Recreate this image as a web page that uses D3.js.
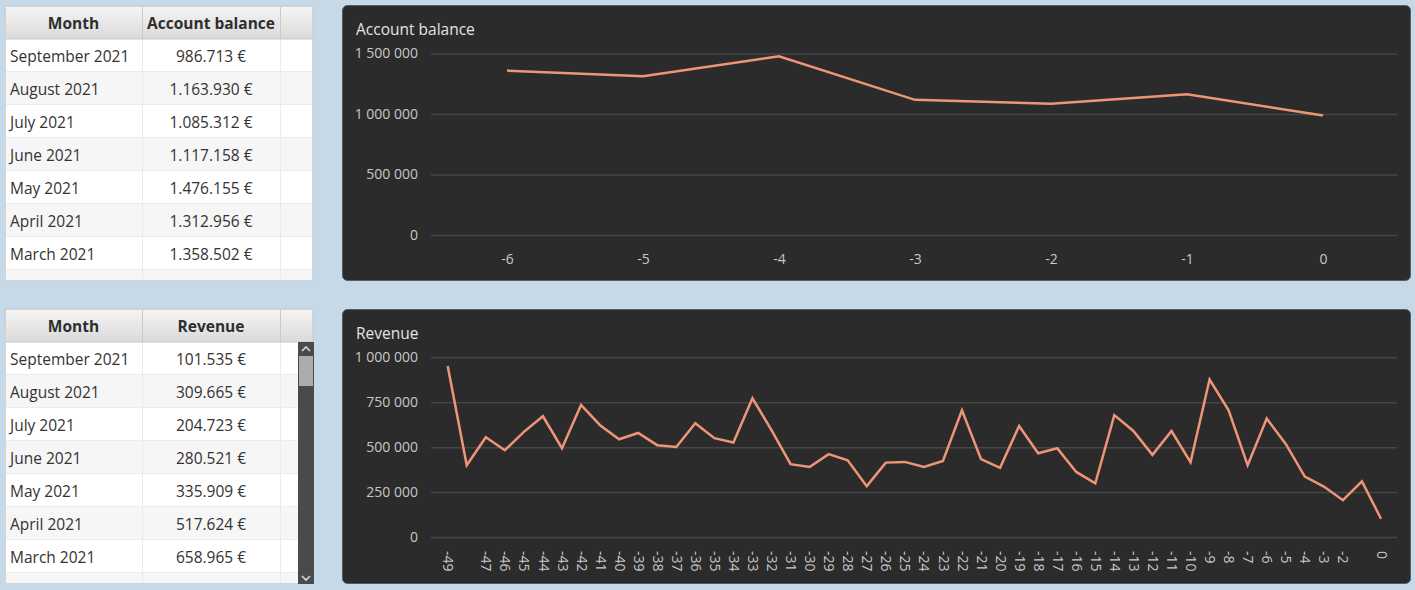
<!DOCTYPE html>
<html>
<head>
<meta charset="utf-8">
<script src="https://cdn.jsdelivr.net/npm/d3@7/dist/d3.min.js"></script>
<style>
  html, body { margin: 0; padding: 0; background: #c6d9e9; }
  svg { display: block; font-family: "Open Sans", "Noto Sans", sans-serif; }
</style>
</head>
<body>
<svg id="chart" width="1415" height="590"></svg>
<script>
// ---------- DATA ----------
const months = ["September 2021", "August 2021", "July 2021", "June 2021", "May 2021", "April 2021", "March 2021"];
const balanceValues = [986713, 1163930, 1085312, 1117158, 1476155, 1312956, 1358502];
const revenueValues = [101535, 309665, 204723, 280521, 335909, 517624, 658965];

const balanceOffsets = [-6, -5, -4, -3, -2, -1, 0];
const balanceSeries = [1358502, 1312956, 1476155, 1117158, 1085312, 1163930, 986713];
const balanceTicks = [0, 500000, 1000000, 1500000];

const revenueOffsets = [-49, -48, -47, -46, -45, -44, -43, -42, -41, -40,
  -39, -38, -37, -36, -35, -34, -33, -32, -31, -30,
  -29, -28, -27, -26, -25, -24, -23, -22, -21, -20,
  -19, -18, -17, -16, -15, -14, -13, -12, -11, -10,
  -9, -8, -7, -6, -5, -4, -3, -2, -1, 0];
const revenueSeries = [952000, 399000, 555000, 483000, 585000, 672000, 494000, 735000, 622000, 544000,
  579000, 511000, 501000, 633000, 550000, 526000, 772000, 595000, 405000, 390000,
  461000, 427000, 283000, 414000, 418000, 390000, 423000, 705000, 433000, 385000,
  618000, 466000, 494000, 362000, 299000, 678000, 590000, 457000, 590000, 416000,
  876000, 705000, 399000, 658965, 517624, 335909, 280521, 204723, 309665, 101535];
const revenueTicks = [0, 250000, 500000, 750000, 1000000];
const revenueHiddenLabels = [-48, -1];

// ---------- STYLE ----------
const LINE = "#ef9577";
const PANEL = "#2b2b2b";
const GRID = "#464646";
const TICKTXT = "#c8c8c8";
const TITLETXT = "#e4e4e4";

const svg = d3.select("#chart");
const defs = svg.append("defs");
const hg = defs.append("linearGradient").attr("id", "hdr").attr("x1", 0).attr("y1", 0).attr("x2", 0).attr("y2", 1);
hg.append("stop").attr("offset", "0%").attr("stop-color", "#f5f5f5");
hg.append("stop").attr("offset", "100%").attr("stop-color", "#dadada");

const numFmt = d3.formatLocale({ decimal: ",", thousands: ".", grouping: [3], currency: ["", " €"] }).format(",d");
const axisFmt = d3.formatLocale({ decimal: ".", thousands: " ", grouping: [3], currency: ["", ""] }).format(",d");

// ---------- TABLES ----------
function drawTable(cfg) {
  const g = svg.append("g");
  const { x0, y0, headerH, rowH, bottom, colX, header, rows, scrollbar } = cfg;
  const x1 = colX[colX.length - 1];
  g.append("rect").attr("x", x0).attr("y", y0).attr("width", x1 - x0).attr("height", bottom - y0)
    .attr("fill", "#ffffff");
  const nRows = Math.ceil((bottom - (y0 + headerH)) / rowH);
  d3.range(nRows).forEach(i => {
    const ry = y0 + headerH + i * rowH;
    const h = Math.min(rowH, bottom - ry);
    g.append("rect").attr("x", x0).attr("y", ry).attr("width", x1 - x0).attr("height", h)
      .attr("fill", i % 2 === 0 ? "#ffffff" : "#f6f6f6");
    if (ry + rowH < bottom) {
      g.append("line").attr("x1", x0).attr("x2", x1).attr("y1", ry + rowH - 0.5).attr("y2", ry + rowH - 0.5)
        .attr("stroke", "#ececec");
    }
  });
  colX.slice(1, -1).forEach(cx => {
    g.append("line").attr("x1", cx + 0.5).attr("x2", cx + 0.5).attr("y1", y0 + headerH).attr("y2", bottom)
      .attr("stroke", "#ebebeb");
  });
  g.append("rect").attr("x", x0).attr("y", y0).attr("width", x1 - x0).attr("height", headerH)
    .attr("fill", "url(#hdr)").attr("stroke", "#c9c9c9");
  colX.slice(1, -1).forEach(cx => {
    g.append("line").attr("x1", cx + 0.5).attr("x2", cx + 0.5).attr("y1", y0).attr("y2", y0 + headerH)
      .attr("stroke", "#c9c9c9");
  });
  header.forEach((t, i) => {
    g.append("text").attr("x", (colX[i] + colX[i + 1]) / 2).attr("y", y0 + headerH / 2 + 1)
      .attr("dy", "0.35em").attr("text-anchor", "middle")
      .attr("font-size", 15.5).attr("font-weight", "bold").attr("fill", "#2e2e2e").text(t);
  });
  rows.forEach((r, i) => {
    const cy = y0 + headerH + i * rowH + rowH / 2 + 1;
    g.append("text").attr("x", colX[0] + 5).attr("y", cy).attr("dy", "0.35em")
      .attr("font-size", 15.5).attr("fill", "#333").text(r[0]);
    g.append("text").attr("x", (colX[1] + colX[2]) / 2).attr("y", cy).attr("dy", "0.35em")
      .attr("text-anchor", "middle").attr("font-size", 15.5).attr("fill", "#333").text(r[1]);
  });
  g.append("rect").attr("x", x0 + 0.5).attr("y", y0 + 0.5).attr("width", x1 - x0 - 1).attr("height", bottom - y0 - 1)
    .attr("fill", "none").attr("stroke", "#d4d4d4");

  if (scrollbar) {
    const sx = 298, sw = 16, sy0 = y0 + headerH, sy1 = bottom;
    g.append("rect").attr("x", sx).attr("y", sy0).attr("width", sw).attr("height", sy1 - sy0).attr("fill", "#4a4a4a");
    g.append("rect").attr("x", sx + 1).attr("y", sy0 + 14).attr("width", sw - 2).attr("height", 30).attr("fill", "#acacac");
    g.append("path").attr("d", `M${sx + 4},${sy0 + 9} L${sx + 8},${sy0 + 5} L${sx + 12},${sy0 + 9}`)
      .attr("fill", "none").attr("stroke", "#d8d8d8").attr("stroke-width", 1.6);
    g.append("path").attr("d", `M${sx + 4},${sy1 - 8} L${sx + 8},${sy1 - 4} L${sx + 12},${sy1 - 8}`)
      .attr("fill", "none").attr("stroke", "#d8d8d8").attr("stroke-width", 1.6);
  }
}

drawTable({
  x0: 5, y0: 6, headerH: 33, rowH: 33, bottom: 281, colX: [5, 142, 280, 313],
  header: ["Month", "Account balance", ""],
  rows: months.map((m, i) => [m, numFmt(balanceValues[i]) + " €"]),
  scrollbar: false
});
drawTable({
  x0: 5, y0: 309, headerH: 33, rowH: 33, bottom: 584, colX: [5, 142, 280, 313],
  header: ["Month", "Revenue", ""],
  rows: months.map((m, i) => [m, numFmt(revenueValues[i]) + " €"]),
  scrollbar: true
});

// ---------- CHARTS ----------
function drawChart(cfg) {
  const { top, bottom, title, titleY, offsets, series, ticks, yRange, xRange, gridX, rotate, hidden } = cfg;
  const g = svg.append("g");
  g.append("rect").attr("x", 342.5).attr("y", top + 0.5).attr("width", 1068).attr("height", bottom - top - 1)
    .attr("rx", 5).attr("ry", 5).attr("fill", PANEL).attr("stroke", "#5a5a5a").attr("stroke-width", 1);
  g.append("text").attr("x", 356).attr("y", titleY).attr("font-size", 15.5).attr("fill", TITLETXT).text(title);

  const y = d3.scaleLinear().domain([ticks[0], ticks[ticks.length - 1]]).range(yRange);
  const x = d3.scalePoint().domain(offsets).range(xRange);

  const yAxis = d3.axisLeft(y).tickValues(ticks).tickSize(-(gridX[1] - gridX[0])).tickPadding(13).tickFormat(axisFmt);
  const ya = g.append("g").attr("transform", `translate(${gridX[0]},0)`).call(yAxis);
  ya.select(".domain").remove();
  ya.selectAll(".tick line").attr("stroke", GRID).attr("stroke-width", 1.5);
  ya.selectAll(".tick text").attr("fill", TICKTXT).attr("font-size", 14).attr("font-family", "Open Sans, sans-serif");

  const xAxis = d3.axisBottom(x).tickSize(0).tickPadding(0)
    .tickValues(offsets.filter(d => !(hidden || []).includes(d)));
  const xa = g.append("g").attr("transform", `translate(0,${cfg.xLabelY})`).call(xAxis);
  xa.select(".domain").remove();
  xa.selectAll(".tick text").attr("fill", TICKTXT).attr("font-size", 14).attr("font-family", "Open Sans, sans-serif");
  if (rotate) {
    xa.selectAll(".tick text").attr("transform", "rotate(90)").attr("text-anchor", "start")
      .attr("x", 0).attr("y", 0).attr("dy", "0.35em");
  } else {
    xa.selectAll(".tick text").attr("dy", "0.35em").attr("y", 0);
  }

  const line = d3.line().x((d, i) => x(offsets[i])).y(d => y(d));
  g.append("path").datum(series).attr("d", line).attr("fill", "none")
    .attr("stroke", LINE).attr("stroke-width", 2.5).attr("stroke-linejoin", "miter");
}

drawChart({
  top: 5, bottom: 281, title: "Account balance", titleY: 35,
  offsets: balanceOffsets, series: balanceSeries, ticks: balanceTicks,
  yRange: [235, 53.5], xRange: [507, 1323], gridX: [431, 1397], xLabelY: 259, rotate: false
});
drawChart({
  top: 309, bottom: 584, title: "Revenue", titleY: 339,
  offsets: revenueOffsets, series: revenueSeries, ticks: revenueTicks,
  yRange: [537, 357.3], xRange: [447.7, 1381], gridX: [431, 1397], xLabelY: 551, rotate: true,
  hidden: revenueHiddenLabels
});
</script>
</body>
</html>
